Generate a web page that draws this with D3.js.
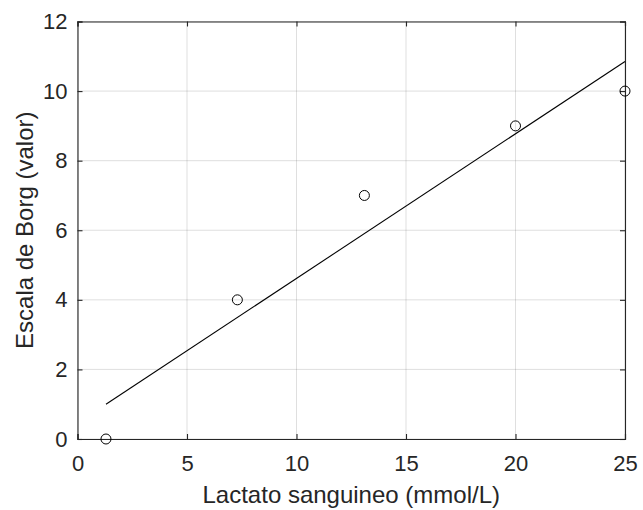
<!DOCTYPE html>
<html><head><meta charset="utf-8">
<script src="https://cdn.jsdelivr.net/npm/d3@7/dist/d3.min.js"></script>
<style>body{margin:0;background:#fff}svg{display:block}text{font-family:"Liberation Sans",Arial,sans-serif;fill:#262626}</style>
</head><body><svg id="c" width="643" height="510"></svg>
<script>
const lactato = [1.3, 7.3, 13.1, 20, 25];
const borg = [0, 4, 7, 9, 10];
const fitX = [1.3, 25];
const fitY = [1.0, 10.85];
const xTicks = [0, 5, 10, 15, 20, 25];
const yTicks = [0, 2, 4, 6, 8, 10, 12];

const svg = d3.select("#c");
const L = 77.5, R = 625, T = 21.5, B = 439;
const x = d3.scaleLinear().domain([0, 25]).range([L, R]);
const y = d3.scaleLinear().domain([0, 12]).range([B, T]);

// grid
svg.append("g").selectAll("line").data(xTicks).join("line")
  .attr("x1", d => x(d)).attr("x2", d => x(d)).attr("y1", T).attr("y2", B)
  .attr("stroke", "#262626").attr("stroke-opacity", 0.15).attr("stroke-width", 1);
svg.append("g").selectAll("line").data(yTicks).join("line")
  .attr("y1", d => y(d)).attr("y2", d => y(d)).attr("x1", L).attr("x2", R)
  .attr("stroke", "#262626").attr("stroke-opacity", 0.15).attr("stroke-width", 1);

// axes
const gx = svg.append("g").attr("transform", `translate(0,${B})`)
  .call(d3.axisBottom(x).tickValues(xTicks).tickSize(-5).tickPadding(16.5));
const gy = svg.append("g").attr("transform", `translate(${L},0)`)
  .call(d3.axisLeft(y).tickValues(yTicks).tickSize(-5).tickPadding(10));
const gx2 = svg.append("g").attr("transform", `translate(0,${T})`)
  .call(d3.axisTop(x).tickValues(xTicks).tickSize(-5).tickFormat(""));
const gy2 = svg.append("g").attr("transform", `translate(${R},0)`)
  .call(d3.axisRight(y).tickValues(yTicks).tickSize(-5).tickFormat(""));
[gx, gy, gx2, gy2].forEach(g => {
  g.attr("font-size", null).attr("font-family", null);
  g.selectAll("path,line").attr("stroke", "#262626").attr("stroke-width", 1.1);
  g.selectAll("text").style("font-size", "22px").attr("fill", "#262626")
    .style("font-family", '"Liberation Sans",Arial,sans-serif');
});

// fit line
svg.append("path").datum(fitX.map((d, i) => [d, fitY[i]]))
  .attr("d", d3.line().x(d => x(d[0])).y(d => y(d[1])))
  .attr("fill", "none").attr("stroke", "#000").attr("stroke-width", 1.1);

// points
svg.append("g").selectAll("circle").data(lactato).join("circle")
  .attr("cx", d => x(d)).attr("cy", (d, i) => y(borg[i])).attr("r", 5)
  .attr("fill", "none").attr("stroke", "#000").attr("stroke-width", 1);

// labels
svg.append("text").attr("x", (L + R) / 2).attr("y", 503).attr("text-anchor", "middle")
  .style("font-size", "24px").text("Lactato sanguineo (mmol/L)");
svg.append("text").attr("transform", `translate(33,${(T + B) / 2}) rotate(-90)`)
  .attr("text-anchor", "middle").style("font-size", "24px").text("Escala de Borg (valor)");
</script></body></html>
